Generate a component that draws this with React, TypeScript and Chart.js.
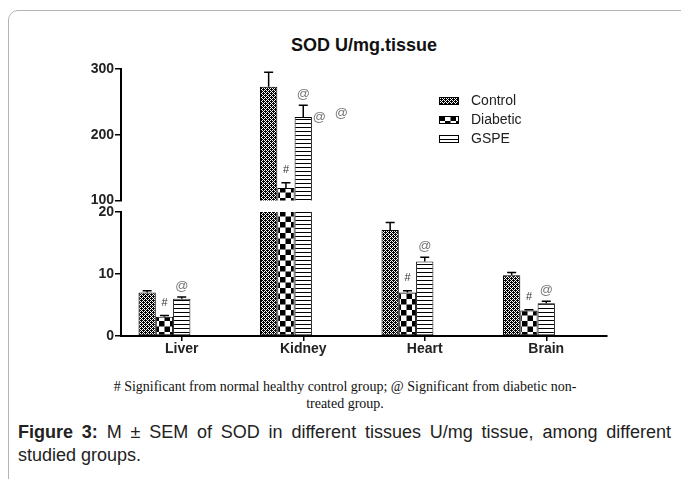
import React, { useEffect, useRef } from "react";
import { Chart, registerables } from "chart.js";
Chart.register(...registerables);

const categories = ["Liver", "Kidney", "Heart", "Brain"];
const seriesNames = ["Control", "Diabetic", "GSPE"];
const controlMean = [7.0, 273, 17.1, 9.8];
const controlSem = [0.3, 22, 1.2, 0.45];
const diabeticMean = [3.1, 119, 7.0, 4.1];
const diabeticSem = [0.2, 8, 0.3, 0.15];
const gspeMean = [6.0, 227, 12.0, 5.3];
const gspeSem = [0.3, 18, 0.7, 0.3];
const hashSig = [true, true, true, true];
const atSig = [true, true, true, true];
const extraKidneyAt = [226, 233];
const upperTicks = [100, 200, 300];
const lowerTicks = [0, 10, 20];

const FONT = "Arial, 'Liberation Sans', sans-serif";

function makePattern(kind: string): CanvasPattern {
  const c = document.createElement("canvas");
  const ctx = c.getContext("2d")!;
  if (kind === "control") {
    c.width = 4; c.height = 4;
    ctx.fillStyle = "#fff"; ctx.fillRect(0, 0, 4, 4);
    ctx.fillStyle = "#000";
    ctx.fillRect(0, 0, 1, 1); ctx.fillRect(2, 0, 1, 1);
    ctx.fillRect(1, 1, 1, 1); ctx.fillRect(3, 1, 1, 1);
    ctx.fillRect(0, 2, 1, 1); ctx.fillRect(2, 2, 1, 1);
    ctx.fillRect(1, 3, 1, 1); ctx.fillRect(3, 3, 1, 1);
    ctx.fillRect(1, 0, 1, 1); ctx.fillRect(3, 2, 1, 1);
  } else if (kind === "diabetic") {
    c.width = 11; c.height = 11;
    ctx.fillStyle = "#fff"; ctx.fillRect(0, 0, 11, 11);
    ctx.fillStyle = "#000"; ctx.fillRect(0, 0, 5.5, 5.5); ctx.fillRect(5.5, 5.5, 5.5, 5.5);
  } else {
    c.width = 4; c.height = 4;
    ctx.fillStyle = "#fff"; ctx.fillRect(0, 0, 4, 4);
    ctx.fillStyle = "#000"; ctx.fillRect(0, 0, 4, 1);
  }
  return ctx.createPattern(c, "repeat")!;
}

const errorBarPlugin = {
  id: "errbars",
  afterDatasetsDraw(chart: any) {
    const { ctx, chartArea: a } = chart;
    const y = chart.scales.y;
    ctx.save();
    ctx.beginPath();
    ctx.rect(a.left, a.top - 2, a.right - a.left, a.bottom - a.top + 2);
    ctx.clip();
    ctx.strokeStyle = "#000";
    ctx.lineWidth = 1.5;
    chart.data.datasets.forEach((ds: any, di: number) => {
      if (!ds.sem) return;
      const meta = chart.getDatasetMeta(di);
      meta.data.forEach((el: any, i: number) => {
        const v = ds.data[i];
        if (v == null) return;
        const yTop = y.getPixelForValue(v);
        const yErr = y.getPixelForValue(v + ds.sem[i]);
        const x = el.x;
        ctx.beginPath();
        ctx.moveTo(x, yTop); ctx.lineTo(x, yErr);
        ctx.moveTo(x - 4.5, yErr); ctx.lineTo(x + 4.5, yErr);
        ctx.stroke();
      });
    });
    ctx.restore();
  },
};

const marksPlugin = {
  id: "marks",
  afterDatasetsDraw(chart: any) {
    const { ctx, chartArea: a } = chart;
    const y = chart.scales.y;
    ctx.save();
    ctx.beginPath();
    ctx.rect(a.left, a.top, a.right - a.left, a.bottom - a.top);
    ctx.clip();
    ctx.textAlign = "center";
    ctx.textBaseline = "middle";
    const dMeta = chart.getDatasetMeta(1);
    const gMeta = chart.getDatasetMeta(2);
    ctx.fillStyle = "#333";
    ctx.font = `11px ${FONT}`;
    hashSig.forEach((s, i) => {
      if (!s) return;
      const el = dMeta.data[i];
      ctx.fillText("#", el.x, y.getPixelForValue(diabeticMean[i] + diabeticSem[i]) - 13);
    });
    ctx.fillStyle = "#777";
    ctx.font = `13px ${FONT}`;
    atSig.forEach((s, i) => {
      if (!s) return;
      const el = gMeta.data[i];
      ctx.fillText("@", el.x, y.getPixelForValue(gspeMean[i] + gspeSem[i]) - 11);
    });
    const k = gMeta.data[1];
    const dxs = [16, 38];
    extraKidneyAt.forEach((v, j) => {
      ctx.fillText("@", k.x + dxs[j], y.getPixelForValue(v));
    });
    ctx.restore();
  },
};

function legendPlugin(patterns: CanvasPattern[]) {
  return {
    id: "customLegend",
    afterDraw(chart: any) {
      const ctx = chart.ctx;
      ctx.save();
      const bx = 379, tx = 411;
      const rows = [46, 65, 84];
      seriesNames.forEach((name, i) => {
        const cy = rows[i];
        ctx.fillStyle = patterns[i];
        ctx.fillRect(bx, cy - 3.5, 19, 7);
        ctx.strokeStyle = "#000";
        ctx.lineWidth = 1;
        ctx.strokeRect(bx + 0.5, cy - 3.5, 19, 7);
        ctx.fillStyle = "#222";
        ctx.font = `14px ${FONT}`;
        ctx.textBaseline = "middle";
        ctx.textAlign = "left";
        ctx.fillText(name, tx, cy);
      });
      ctx.restore();
    },
  };
}

function makeChart(canvas: HTMLCanvasElement, part: "top" | "bottom", patterns: CanvasPattern[]) {
  const isTop = part === "top";
  const means = [controlMean, diabeticMean, gspeMean];
  const sems = [controlSem, diabeticSem, gspeSem];
  const datasets: any[] = seriesNames.map((name, i) => ({
    label: name,
    data: means[i],
    sem: sems[i],
    backgroundColor: patterns[i],
    borderColor: "#000",
    borderWidth: 1,
    borderSkipped: false,
    barPercentage: 1,
    categoryPercentage: 0.712,
  }));
  // two empty spacer slots so the category tick sits under the last bar
  for (let s = 0; s < 2; s++) {
    datasets.push({
      label: "",
      data: categories.map(() => null),
      barPercentage: 1,
      categoryPercentage: 0.712,
    });
  }
  const ticksArr = isTop ? upperTicks : lowerTicks;
  const plugins: any[] = [errorBarPlugin, marksPlugin];
  if (isTop) plugins.push(legendPlugin(patterns));
  return new Chart(canvas, {
    type: "bar",
    data: { labels: categories, datasets },
    plugins,
    options: {
      animation: false,
      responsive: false,
      maintainAspectRatio: false,
      devicePixelRatio: 1,
      layout: { padding: isTop ? { top: 14, right: 13, bottom: 9, left: 0 } : { top: 12, right: 13, bottom: 0, left: 0 } },
      plugins: { legend: { display: false }, tooltip: { enabled: false }, title: { display: false } },
      scales: {
        x: {
          display: !isTop,
          grid: { display: true, drawOnChartArea: false, drawTicks: true, tickLength: 5, offset: false, color: "#000", lineWidth: 1.5 },
          border: { display: true, color: "#000", width: 2 },
          ticks: { font: { family: FONT, size: 14, weight: "bold" }, color: "#222", padding: 0 },
          afterFit: (s: any) => { s.height = isTop ? 0 : 34; },
        },
        y: {
          min: ticksArr[0],
          max: ticksArr[ticksArr.length - 1],
          afterBuildTicks: (s: any) => { s.ticks = ticksArr.map((v) => ({ value: v })); },
          grid: { display: true, drawOnChartArea: false, drawTicks: true, tickLength: 6, color: "#000", lineWidth: 1.5 },
          border: { display: true, color: "#000", width: 2 },
          ticks: { font: { family: FONT, size: 14, weight: "bold" }, color: "#222", padding: 1 },
          afterFit: (s: any) => { s.width = 61; },
        },
      },
    } as any,
  });
}

export default function App() {
  const topRef = useRef<HTMLCanvasElement>(null);
  const botRef = useRef<HTMLCanvasElement>(null);
  useEffect(() => {
    const patterns = [makePattern("control"), makePattern("diabetic"), makePattern("gspe")];
    const c1 = makeChart(topRef.current!, "top", patterns);
    const c2 = makeChart(botRef.current!, "bottom", patterns);
    return () => { c1.destroy(); c2.destroy(); };
  }, []);
  return (
    <div style={{ position: "absolute", left: 0, top: 0, width: 681, height: 479, overflow: "hidden", background: "#fff" }}>
      <div style={{ position: "absolute", left: 8, top: 10, width: 700, height: 500, border: "1px solid #b4b4b4", borderRadius: 10 }} />
      <div style={{ position: "absolute", left: 164, width: 400, top: 34, textAlign: "center", font: `bold 18px ${FONT}`, color: "#111", lineHeight: "22px" }}>
        SOD U/mg.tissue
      </div>
      <canvas ref={botRef} width={560} height={170} style={{ position: "absolute", left: 60, top: 200, width: 560, height: 170 }} />
      <canvas ref={topRef} width={560} height={155} style={{ position: "absolute", left: 60, top: 55, width: 560, height: 155 }} />
      <div style={{ position: "absolute", left: 45, width: 600, top: 378, textAlign: "center", fontFamily: "'Liberation Serif', 'Times New Roman', serif", fontSize: 14, lineHeight: "17px", color: "#111" }}>
        # Significant from normal healthy control group; @ Significant from diabetic non-<br />treated group.
      </div>
      <div style={{ position: "absolute", left: 18, width: 653, top: 421, fontFamily: FONT, fontSize: 18, lineHeight: "23px", color: "#222" }}>
        <div style={{ textAlign: "justify", textAlignLast: "justify" as any, whiteSpace: "nowrap" }}>
          <b>Figure 3:</b> M ± SEM of SOD in different tissues U/mg tissue, among different
        </div>
        <div>studied groups.</div>
      </div>
    </div>
  );
}
